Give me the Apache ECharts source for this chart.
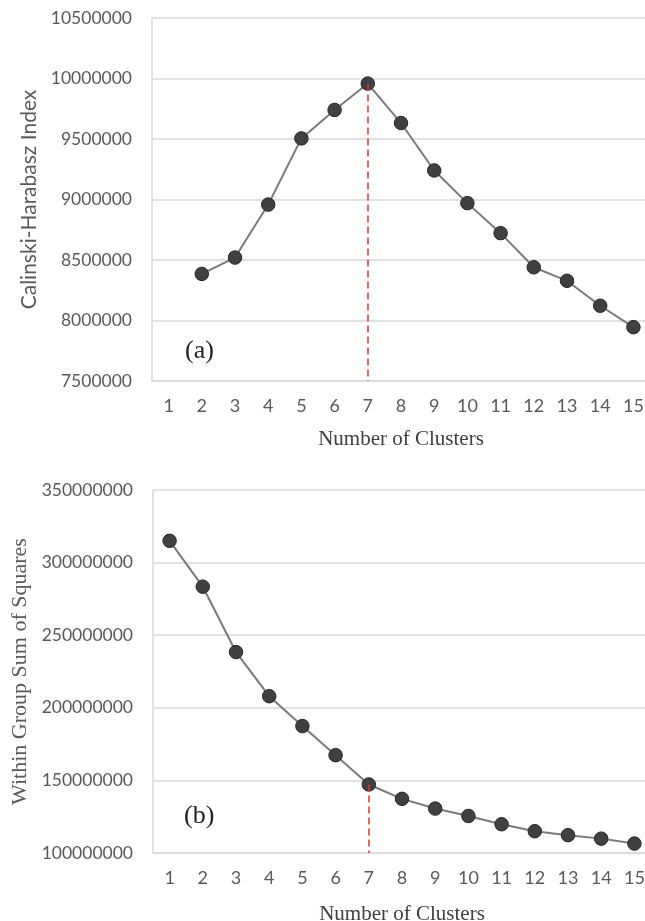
<!DOCTYPE html>
<html>
<head>
<meta charset="utf-8">
<script src="https://cdn.jsdelivr.net/npm/echarts@6/dist/echarts.min.js"></script>
<style>
html,body{margin:0;padding:0;background:#fff;}
#main{width:645px;height:921px;}
</style>
</head>
<body>
<div id="main"></div>
<script>
const categories = ['1','2','3','4','5','6','7','8','9','10','11','12','13','14','15'];
const chIndex = [null, 8385000, 8520000, 8958000, 9505000, 9740000, 9958000, 9632000, 9240000, 8970000, 8722000, 8440000, 8328000, 8122000, 7945000];
const wgss = [315000000, 283400000, 238400000, 208000000, 187400000, 167400000, 147200000, 137300000, 130600000, 125500000, 119800000, 115000000, 112300000, 109900000, 106500000];
const topAxis = { min: 7500000, max: 10500000, interval: 500000 };
const bottomAxis = { min: 100000000, max: 350000000, interval: 50000000 };
const optimalIndex = 6; // k = 7
const panelLabels = ['(a)', '(b)'];

const gridColor = '#d9d9d9';
const labelFont = 'Lato, "Open Sans", sans-serif';
const serifFont = '"Liberation Serif", "DejaVu Serif", serif';

function xAxisCfg(gridIndex, gap) {
  return {
    type: 'category', gridIndex: gridIndex, data: categories, boundaryGap: true,
    axisLine: { show: true, lineStyle: { color: gridColor, width: 1.5 } },
    axisTick: { show: false },
    axisLabel: { color: '#595959', fontSize: 18, fontFamily: labelFont, margin: 16 },
    name: 'Number of Clusters', nameLocation: 'middle', nameGap: gap,
    nameTextStyle: { color: '#404040', fontSize: 21, fontFamily: serifFont }
  };
}
function yAxisCfg(gridIndex, rng, name, nameFont, nameSize, gap) {
  return {
    type: 'value', gridIndex: gridIndex, min: rng.min, max: rng.max, interval: rng.interval,
    axisLine: { show: true, lineStyle: { color: gridColor, width: 1.5 } },
    axisTick: { show: false },
    splitLine: { show: true, lineStyle: { color: gridColor, width: 1.5 } },
    axisLabel: { color: '#595959', fontSize: 17.5, fontFamily: labelFont, margin: 20,
                 formatter: function (v) { return String(v); } },
    name: name, nameLocation: 'middle', nameGap: gap, nameRotate: 90,
    nameTextStyle: { color: '#595959', fontSize: nameSize, fontFamily: nameFont }
  };
}
function seriesCfg(idx, data, minVal) {
  return {
    type: 'line', xAxisIndex: idx, yAxisIndex: idx, data: data,
    symbol: 'circle', symbolSize: 13.5,
    lineStyle: { color: '#7a7a7a', width: 2 },
    itemStyle: { color: '#404040', borderColor: '#262626', borderWidth: 1 },
    z: 3,
    markLine: {
      silent: true, symbol: 'none', animation: false,
      label: { show: false },
      lineStyle: { color: '#e8302a', type: [7, 4], width: 1.5 },
      data: [[
        { coord: [categories[optimalIndex], data[optimalIndex]] },
        { coord: [categories[optimalIndex], minVal] }
      ]]
    }
  };
}

const chart = echarts.init(document.getElementById('main'), null, { renderer: 'canvas' });
chart.setOption({
  animation: false,
  backgroundColor: '#ffffff',
  grid: [
    { left: 152, top: 18, width: 498, height: 363, outerBoundsMode: 'none', containLabel: false },
    { left: 153, top: 490, width: 498, height: 363, outerBoundsMode: 'none', containLabel: false }
  ],
  xAxis: [xAxisCfg(0, 48), xAxisCfg(1, 51)],
  yAxis: [
    yAxisCfg(0, topAxis, 'Calinski-Harabasz Index', labelFont, 21, 106),
    yAxisCfg(1, bottomAxis, 'Within Group Sum of Squares', serifFont, 22, 108)
  ],
  series: [
    seriesCfg(0, chIndex, topAxis.min),
    seriesCfg(1, wgss, bottomAxis.min)
  ],
  graphic: [
    { type: 'text', left: 185, top: 338, style: { text: panelLabels[0], fill: '#222', font: '26px ' + serifFont } },
    { type: 'text', left: 184, top: 803, style: { text: panelLabels[1], fill: '#222', font: '26px ' + serifFont } }
  ]
});
</script>
</body>
</html>
